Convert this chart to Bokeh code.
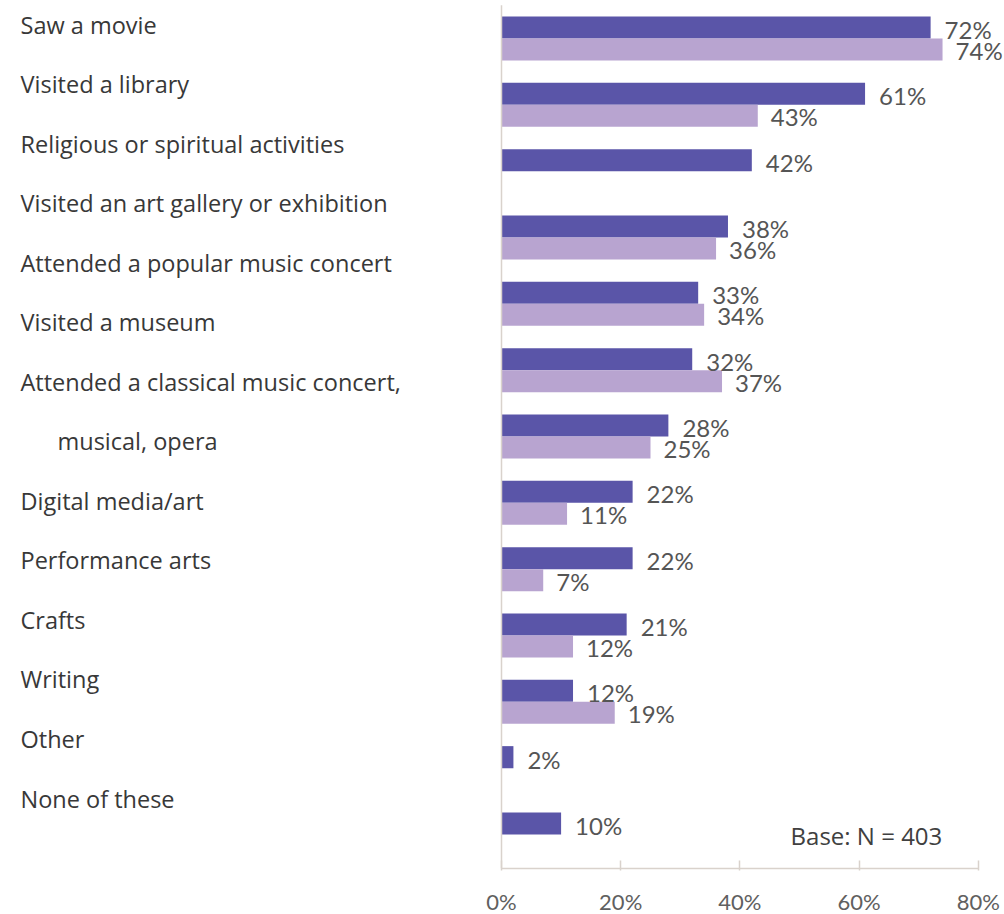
from bokeh.plotting import figure
from bokeh.models import Range1d, LinearAxis, FixedTicker, CustomJSTickFormatter, ColumnDataSource, Label
from bokeh.transform import dodge
from bokeh.core.properties import value
from bokeh.embed import file_html
from bokeh.resources import INLINE

# ---------------- data ----------------
categories = [
    "Saw a movie", "Visited a library", "Religious or spiritual activities",
    "Visited an art gallery or exhibition", "Attended a popular music concert",
    "Visited a museum", "Attended a classical music concert, musical, opera",
    "Digital media/art", "Performance arts", "Crafts", "Writing", "Other",
    "None of these",
]
series_dark = [72, 61, 42, 38, 33, 32, 28, 22, 22, 21, 12, 2, 10]
series_light = [74, 43, None, 36, 34, 37, 25, 11, 7, 12, 19, None, None]
label_lines = [
    "Saw a movie", "Visited a library", "Religious or spiritual activities",
    "Visited an art gallery or exhibition", "Attended a popular music concert",
    "Visited a museum", "Attended a classical music concert,", "musical, opera",
    "Digital media/art", "Performance arts", "Crafts", "Writing", "Other",
    "None of these",
]
label_indent = [0, 0, 0, 0, 0, 0, 0, 37, 0, 0, 0, 0, 0, 0]
x_ticks = [0, 20, 40, 60, 80]
base_note = "Base: N = 403"

DARK = "#5a55a8"
LIGHT = "#b8a4d0"

# ---------------- layout ----------------
FRAME_W = 1004
FRAME_H = 868
PX_PER_PCT = 5.96
ZERO_PX = 501
x_start = -ZERO_PX / PX_PER_PCT
x_end = x_start + FRAME_W / PX_PER_PCT

GROUP_PX = 66.33
FIRST_PX = 38
y_top = -FIRST_PX / GROUP_PX
y_bottom = (FRAME_H - FIRST_PX) / GROUP_PX
BAR_H = 22 / GROUP_PX

ROW_PX = 59.54
ROW_FIRST = 24
r_top = -ROW_FIRST / ROW_PX
r_bottom = (FRAME_H - ROW_FIRST) / ROW_PX

p = figure(frame_width=FRAME_W, frame_height=FRAME_H,
           x_range=Range1d(x_start, x_end),
           y_range=Range1d(y_bottom, y_top),
           output_backend="svg", toolbar_location=None,
           x_axis_location=None, y_axis_location=None,
           min_border_left=0, min_border_right=0, min_border_top=0,
           min_border_bottom=0)
p.extra_y_ranges = {"rows": Range1d(r_bottom, r_top)}
p.outline_line_color = None
p.grid.visible = False
p.background_fill_color = "white"
p.border_fill_color = "white"

idx = list(range(len(categories)))
dark_src = ColumnDataSource(dict(y=idx, v=series_dark,
                                 t=[f"{v}%" for v in series_dark]))
li = [i for i, v in enumerate(series_light) if v is not None]
light_src = ColumnDataSource(dict(y=li, v=[series_light[i] for i in li],
                                  t=[f"{series_light[i]}%" for i in li]))

off = BAR_H / 2
p.hbar(y=dodge("y", -off, range=p.y_range), left=0, right="v", height=BAR_H,
       source=dark_src, fill_color=DARK, line_color=None)
p.hbar(y=dodge("y", off, range=p.y_range), left=0, right="v", height=BAR_H,
       source=light_src, fill_color=LIGHT, line_color=None)

val_font = value("Lato")
p.text(x="v", y=dodge("y", -off, range=p.y_range), text="t", source=dark_src,
       x_offset=14, y_offset=2, text_font=val_font, text_font_size="24px",
       text_color="#555555", text_baseline="middle", text_align="left")
p.text(x="v", y=dodge("y", off, range=p.y_range), text="t", source=light_src,
       x_offset=13, y_offset=1, text_font=val_font, text_font_size="24px",
       text_color="#555555", text_baseline="middle", text_align="left")

# left category labels (their own row scale)
rows_src = ColumnDataSource(dict(r=list(range(len(label_lines))), t=label_lines,
                                 xo=[20 + d for d in label_indent],
                                 x=[x_start] * len(label_lines)))
p.text(x="x", y="r", text="t", source=rows_src, y_range_name="rows",
       x_offset="xo", text_font=value("Open Sans"), text_font_size="23.5px",
       text_color="#383838", text_baseline="middle", text_align="left")

# vertical zero line
p.segment(x0=[0], x1=[0], y0=[y_bottom], y1=[y_top + 0.07],
          line_color="#d9d2cc", line_width=1.5)

# x axis
xa = LinearAxis(bounds=(0, 80), ticker=FixedTicker(ticks=x_ticks),
                formatter=CustomJSTickFormatter(code="return tick + '%';"))
xa.axis_line_color = "#d9d2cc"
xa.axis_line_width = 1.5
xa.major_tick_line_color = "#d9d2cc"
xa.major_tick_line_width = 1.5
xa.major_tick_in = 8
xa.major_tick_out = 2
xa.minor_tick_line_color = None
xa.major_label_standoff = 17
xa.major_label_text_font = "Lato"
xa.major_label_text_font_size = "22px"
xa.major_label_text_color = "#606060"
p.add_layout(xa, "below")

p.add_layout(Label(x=80, y=12, x_offset=-36, y_offset=-1, text=base_note,
                   text_align="right", text_baseline="middle",
                   text_font="Open Sans", text_font_size="24px",
                   text_color="#404040"))

open("out.html", "w").write(file_html(p, INLINE))
